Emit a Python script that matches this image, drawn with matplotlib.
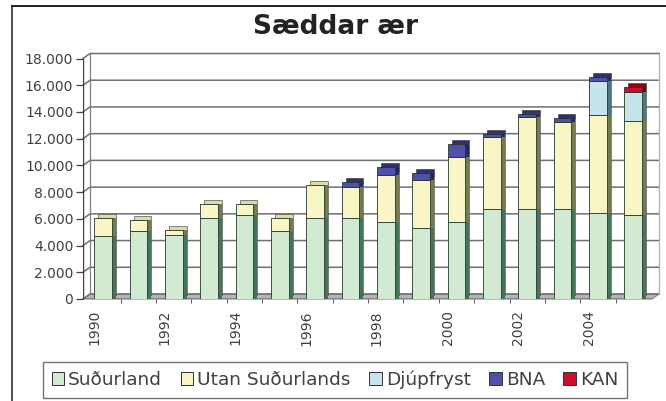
import numpy as np
import matplotlib.pyplot as plt
import matplotlib.transforms as mtransforms
from matplotlib.patches import Polygon, Patch
from matplotlib.lines import Line2D

years = list(range(1990, 2006))
sudurland = [4730, 5100, 4780, 6080, 6280, 5100, 6070, 6030, 5730, 5330, 5730, 6770, 6770, 6770, 6450, 6270]
utan = [1300, 800, 420, 1020, 820, 930, 2430, 2360, 3530, 3560, 4900, 5350, 6840, 6470, 7290, 7020]
djupfryst = [0, 0, 0, 0, 0, 0, 0, 0, 0, 0, 0, 0, 0, 0, 2610, 2190]
bna = [0, 0, 0, 0, 0, 0, 0, 370, 620, 570, 950, 250, 250, 300, 250, 0]
kan = [0, 0, 0, 0, 0, 0, 0, 0, 0, 0, 0, 0, 0, 0, 0, 370]

series_names = ["Suðurland", "Utan Suðurlands", "Djúpfryst", "BNA", "KAN"]
front_cols = ["#d2ead2", "#f8f6c4", "#c6e4ec", "#5050a8", "#c8102c"]
cap_cols = ["#a8cca8", "#dedca4", "#9cc4cc", "#30306e", "#8c0818"]
side_cols = ["#46745a", "#747a52", "#4c7680", "#28285a", "#600010"]

yticks = list(range(0, 18001, 2000))

W, H = 666, 401
fig = plt.figure(figsize=(W / 100, H / 100), dpi=100)
ax = fig.add_axes([83 / W, 102 / H, 569 / W, 240.5 / H])
ax.set_xlim(-0.566, 15.53)
ax.set_ylim(0, 18000)
ax.patch.set_visible(False)
for s in ax.spines.values():
    s.set_visible(False)

# depth of the walls / bars in pixels
wdx, wdy = 7, 5
bdx, bdy = 4, 4
ident = mtransforms.IdentityTransform()


def px(x, y):
    return ax.transData.transform((x, y))


x0, x1 = ax.get_xlim()

# floor
fl = [px(x0, 0), px(x1, 0), px(x1, 0) + (wdx, wdy), px(x0, 0) + (wdx, wdy)]
ax.add_patch(Polygon(fl, closed=True, transform=ident, facecolor="#b4b4bc",
                     edgecolor="#808080", lw=0.8, zorder=1, clip_on=False))

# walls and gridlines
for v in yticks:
    a = px(x0, v)
    b = a + (wdx, wdy)
    c = px(x1, v) + (wdx, wdy)
    ax.add_line(Line2D([a[0], b[0], c[0]], [a[1], b[1], c[1]], transform=ident,
                       color="#707070", lw=1.1, zorder=1, clip_on=False))
bl = px(x0, 0) + (wdx, wdy)
tl = px(x0, 18000) + (wdx, wdy)
br = px(x1, 0) + (wdx, wdy)
tr = px(x1, 18000) + (wdx, wdy)
ax.add_line(Line2D([bl[0], tl[0]], [bl[1], tl[1]], transform=ident,
                   color="#808080", lw=0.9, zorder=1, clip_on=False))
ax.add_line(Line2D([br[0], tr[0]], [br[1], tr[1]], transform=ident,
                   color="#b0b0b0", lw=0.9, zorder=1, clip_on=False))
ax.axvline(x0, color="#404040", lw=1.0, zorder=2)

# stacked bars with simple 3d look
pos = np.arange(len(years))
series = [sudurland, utan, djupfryst, bna, kan]
w = 0.5
cap_off = mtransforms.ScaledTranslation(bdx / 100, bdy / 100, fig.dpi_scale_trans)
side_off = mtransforms.ScaledTranslation(bdx / 100, 0, fig.dpi_scale_trans)

bottoms = []
b = np.zeros(len(years))
for s in series:
    bottoms.append(b.copy())
    b = b + np.array(s)

for k, s in enumerate(series):
    vals = np.array(s)
    m = vals > 0
    ax.bar(pos[m], vals[m], w, bottom=bottoms[k][m], color=cap_cols[k],
           edgecolor="#303030", lw=0.4, transform=ax.transData + cap_off,
           zorder=3, clip_on=False)
for k, s in enumerate(series):
    vals = np.array(s)
    m = vals > 0
    ax.bar(pos[m], vals[m], w, bottom=bottoms[k][m], color=side_cols[k],
           lw=0, transform=ax.transData + side_off, zorder=4, clip_on=False)
for k, s in enumerate(series):
    vals = np.array(s)
    m = vals > 0
    ax.bar(pos[m], vals[m], w, bottom=bottoms[k][m], color=front_cols[k],
           edgecolor="#26362a", lw=0.6, zorder=5)

ax.axhline(0, color="#404040", lw=1.0, zorder=2)

# axes ticks
ax.set_yticks(yticks)
ax.set_yticklabels([f"{v:,}".replace(",", ".") for v in yticks])
ax.tick_params(axis="y", length=5, width=0.9, color="#404040", pad=2,
               labelsize=10, labelcolor="#404040")
ax.set_xticks(pos[::2])
ax.set_xticklabels([str(y) for y in years[::2]], rotation=90)
ax.tick_params(axis="x", length=0, pad=8, labelsize=10, labelcolor="#404040")
lab_off = mtransforms.ScaledTranslation(-9 / 100, 0, fig.dpi_scale_trans)
for t in ax.get_xticklabels():
    t.set_transform(t.get_transform() + lab_off)
ax.set_xticks(pos[:-1] + 0.5, minor=True)
ax.tick_params(axis="x", which="minor", length=3, color="#404040")

fig.text(335 / W, 1 - 27 / H, "Sæddar ær", ha="center", va="center",
         fontsize=19, fontweight="bold", color="#222222")

handles = [Patch(facecolor=c, edgecolor="#303030", lw=0.7) for c in front_cols]
leg = fig.legend(handles, series_names, ncol=5, loc="center",
                 bbox_to_anchor=(335 / W, 1 - 380 / H), fontsize=13.3,
                 handlelength=0.7, handleheight=0.7, handletextpad=0.2,
                 columnspacing=1.0, fancybox=False, borderpad=0.45,
                 edgecolor="#505050", labelcolor="#404040")
leg.get_frame().set_linewidth(1.0)

# outer frame (top and left edges)
fig.add_artist(Line2D([12 / W, 12 / W], [0, 1 - 6 / H], color="#303030", lw=1.2))
fig.add_artist(Line2D([12 / W, 1], [1 - 6 / H, 1 - 6 / H], color="#202020", lw=1.4))

fig.savefig("out.png", dpi=100)
